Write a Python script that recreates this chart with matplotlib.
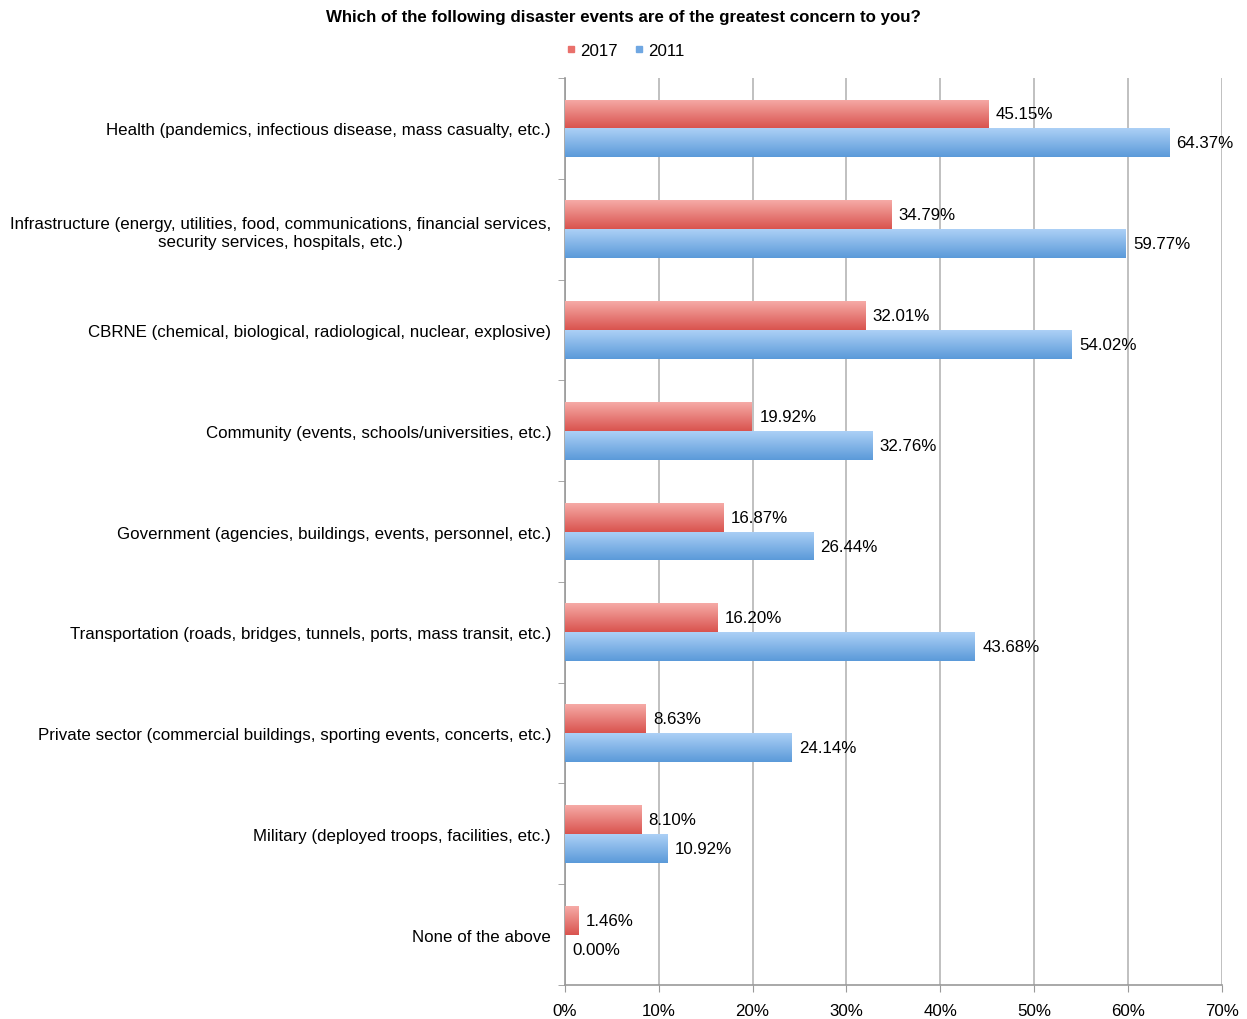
import numpy as np
import matplotlib
matplotlib.use("Agg")
from matplotlib import pyplot as plt
from matplotlib.colors import LinearSegmentedColormap
from matplotlib.lines import Line2D

plt.rcParams['font.family'] = ['Liberation Sans', 'DejaVu Sans']

categories = [
    "Health (pandemics, infectious disease, mass casualty, etc.)",
    "Infrastructure (energy, utilities, food, communications, financial services,\nsecurity services, hospitals, etc.)",
    "CBRNE (chemical, biological, radiological, nuclear, explosive)",
    "Community (events, schools/universities, etc.)",
    "Government (agencies, buildings, events, personnel, etc.)",
    "Transportation (roads, bridges, tunnels, ports, mass transit, etc.)",
    "Private sector (commercial buildings, sporting events, concerts, etc.)",
    "Military (deployed troops, facilities, etc.)",
    "None of the above",
]
vals_2017 = [45.15, 34.79, 32.01, 19.92, 16.87, 16.20, 8.63, 8.10, 1.46]
vals_2011 = [64.37, 59.77, 54.02, 32.76, 26.44, 43.68, 24.14, 10.92, 0.00]
xticks = [0, 10, 20, 30, 40, 50, 60, 70]

red_cmap = LinearSegmentedColormap.from_list("r", ["#f6aaa6", "#d9544f"])
blue_cmap = LinearSegmentedColormap.from_list("b", ["#acd0f6", "#5b9ad9"])

fs = 12.2

fig = plt.figure(figsize=(12.47, 10.2), dpi=100)
ax = fig.add_axes([0.453, 0.0333, 0.5268, 0.8892])

y = np.arange(len(categories))
h = 0.287

def grad_bars(ypos, vals, cmap, edge):
    bars = ax.barh(ypos, vals, height=h, color=edge, zorder=3)
    grad = np.linspace(0, 1, 64).reshape(-1, 1)
    for b in bars:
        if b.get_width() <= 0:
            continue
        x0, y0 = b.get_x(), b.get_y()
        im = ax.imshow(grad, cmap=cmap, aspect='auto', zorder=4,
                       extent=[x0, x0 + b.get_width(), y0, y0 + b.get_height()],
                       origin='lower')
        im.set_clip_path(b)
    return bars

grad_bars(y - h / 2, vals_2017, red_cmap, "#e07470")
grad_bars(y + h / 2, vals_2011, blue_cmap, "#7fb3e8")

for i in range(len(categories)):
    ax.text(vals_2017[i] + 0.8, y[i] - h / 2, "%.2f%%" % vals_2017[i],
            va='center', ha='left', fontsize=fs, zorder=6, clip_on=False)
    ax.text(vals_2011[i] + 0.8, y[i] + h / 2, "%.2f%%" % vals_2011[i],
            va='center', ha='left', fontsize=fs, zorder=6, clip_on=False)

ax.set_xlim(0, 70)
ax.set_ylim(len(categories) - 0.5, -0.5)
ax.set_xticks(xticks)
ax.set_xticklabels(["%d%%" % t for t in xticks], fontsize=fs)
ax.set_yticks(y)
ax.set_yticklabels(categories, fontsize=fs, ha='right', multialignment='center',
                   linespacing=1.25)
ax.tick_params(axis='y', which='major', length=0, pad=10)
ax.set_yticks(np.arange(-0.5, len(categories), 1), minor=True)
ax.tick_params(axis='y', which='minor', length=5, color='#999999', direction='out')
ax.tick_params(axis='x', length=5, color='#999999', direction='out', pad=8)

ax.grid(axis='x', color='#b5b5b5', linewidth=1.2, zorder=0)
ax.set_axisbelow(True)
for s in ['top', 'right']:
    ax.spines[s].set_visible(False)
for s in ['left', 'bottom']:
    ax.spines[s].set_color('#999999')
    ax.spines[s].set_linewidth(1.2)

fig.text(0.5, 0.983, "Which of the following disaster events are of the greatest concern to you?",
         ha='center', va='center', fontsize=fs, fontweight='bold')

handles = [Line2D([], [], marker='s', linestyle='none', color='#e9706b', markersize=5),
           Line2D([], [], marker='s', linestyle='none', color='#6fa7e2', markersize=5)]
fig.legend(handles, ['2017', '2011'], loc='center', bbox_to_anchor=(0.5, 0.95),
           ncol=2, frameon=False, fontsize=fs, handletextpad=0.0,
           columnspacing=0.8, handlelength=1.0)

fig.savefig("out.png", dpi=100)
